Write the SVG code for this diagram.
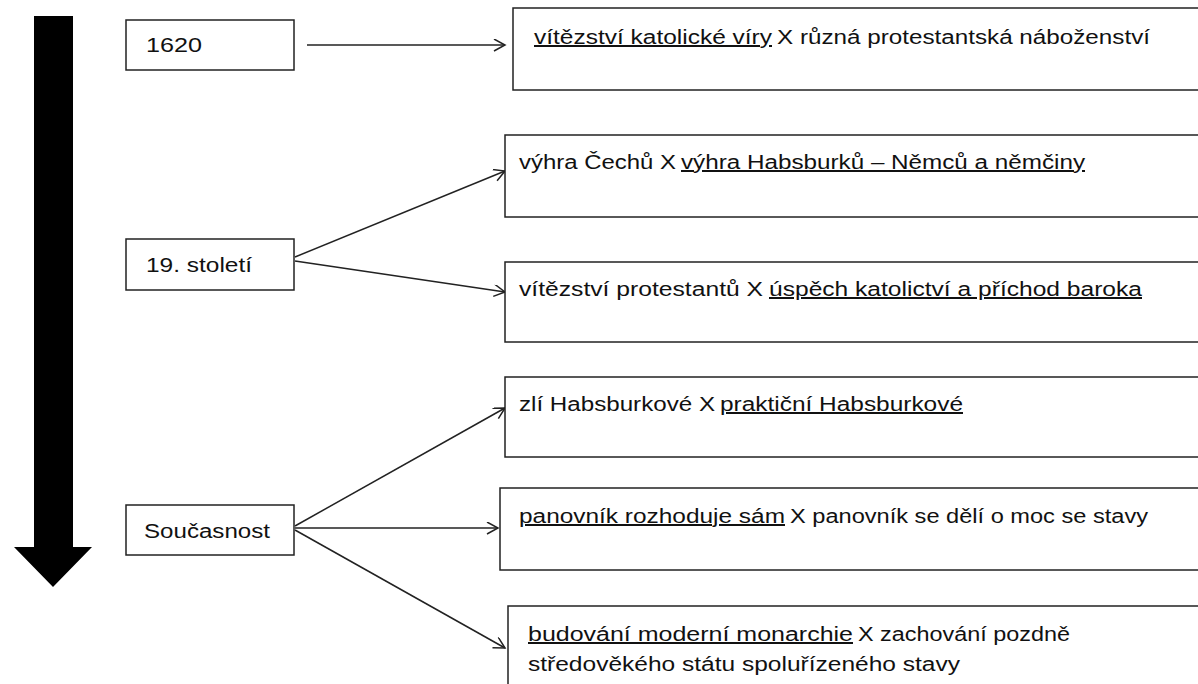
<svg xmlns="http://www.w3.org/2000/svg" width="1198" height="684" viewBox="0 0 1198 684">
<defs>
<style>
.box{fill:#fff;stroke:#222;stroke-width:1.5}
.t{font-family:"Liberation Sans",Arial,sans-serif;font-size:20px;fill:#111}
.u{text-decoration:underline}
.c{stroke:#222;stroke-width:1.5;fill:none}
</style>
<marker id="ah" markerWidth="14" markerHeight="14" refX="12" refY="6" orient="auto" markerUnits="userSpaceOnUse">
<path d="M1,0 L12,6 L1,12" fill="none" stroke="#222" stroke-width="1.5"/>
</marker>
</defs>
<g id="timeline">
<polygon points="34,16 73,16 73,547 92,547 53,587 14,547 34,547" fill="#000"/>
</g>
<g id="connectors">
<line class="c" x1="307" y1="45" x2="505" y2="45" marker-end="url(#ah)"/>
<line class="c" x1="295" y1="257" x2="505" y2="171" marker-end="url(#ah)"/>
<line class="c" x1="295" y1="261" x2="505" y2="292" marker-end="url(#ah)"/>
<line class="c" x1="295" y1="526" x2="505" y2="408" marker-end="url(#ah)"/>
<line class="c" x1="295" y1="528" x2="498" y2="528" marker-end="url(#ah)"/>
<line class="c" x1="295" y1="530" x2="505" y2="648" marker-end="url(#ah)"/>
</g>
<g id="n1620">
<rect class="box" x="126" y="20" width="168" height="50"/>
<text class="t" x="146" y="52" textLength="56" lengthAdjust="spacingAndGlyphs">1620</text>
</g>
<g id="n19">
<rect class="box" x="126" y="239" width="168" height="51"/>
<text class="t" x="146" y="272" textLength="106" lengthAdjust="spacingAndGlyphs">19. století</text>
</g>
<g id="nSoucasnost">
<rect class="box" x="126" y="505" width="168" height="50"/>
<text class="t" x="144" y="538" textLength="126" lengthAdjust="spacingAndGlyphs">Současnost</text>
</g>
<g id="bA">
<rect class="box" x="513" y="8" width="700" height="82"/>
<text class="t u" x="534" y="44" textLength="238" lengthAdjust="spacingAndGlyphs">vítězství katolické víry</text>
<text class="t" x="777" y="44" textLength="373" lengthAdjust="spacingAndGlyphs">X různá protestantská náboženství</text>
</g>
<g id="bB">
<rect class="box" x="505" y="135" width="710" height="82"/>
<text class="t" x="519" y="169" textLength="157" lengthAdjust="spacingAndGlyphs">výhra Čechů X</text>
<text class="t u" x="681" y="169" textLength="404" lengthAdjust="spacingAndGlyphs">výhra Habsburků – Němců a němčiny</text>
</g>
<g id="bC">
<rect class="box" x="505" y="262" width="710" height="80"/>
<text class="t" x="519" y="296" textLength="244" lengthAdjust="spacingAndGlyphs">vítězství protestantů X</text>
<text class="t u" x="769" y="296" textLength="373" lengthAdjust="spacingAndGlyphs">úspěch katolictví a příchod baroka</text>
</g>
<g id="bD">
<rect class="box" x="505" y="377" width="710" height="80"/>
<text class="t" x="519" y="411" textLength="196" lengthAdjust="spacingAndGlyphs">zlí Habsburkové X</text>
<text class="t u" x="720" y="411" textLength="243" lengthAdjust="spacingAndGlyphs">praktiční Habsburkové</text>
</g>
<g id="bE">
<rect class="box" x="500" y="488" width="715" height="82"/>
<text class="t u" x="519" y="523" textLength="266" lengthAdjust="spacingAndGlyphs">panovník rozhoduje sám</text>
<text class="t" x="790" y="523" textLength="358" lengthAdjust="spacingAndGlyphs">X panovník se dělí o moc se stavy</text>
</g>
<g id="bF">
<rect class="box" x="508" y="606" width="710" height="100"/>
<text class="t u" x="528" y="641" textLength="325" lengthAdjust="spacingAndGlyphs">budování moderní monarchie</text>
<text class="t" x="858" y="641" textLength="212" lengthAdjust="spacingAndGlyphs">X zachování pozdně</text>
<text class="t" x="528" y="671" textLength="432" lengthAdjust="spacingAndGlyphs">středověkého státu spoluřízeného stavy</text>
</g>
</svg>
